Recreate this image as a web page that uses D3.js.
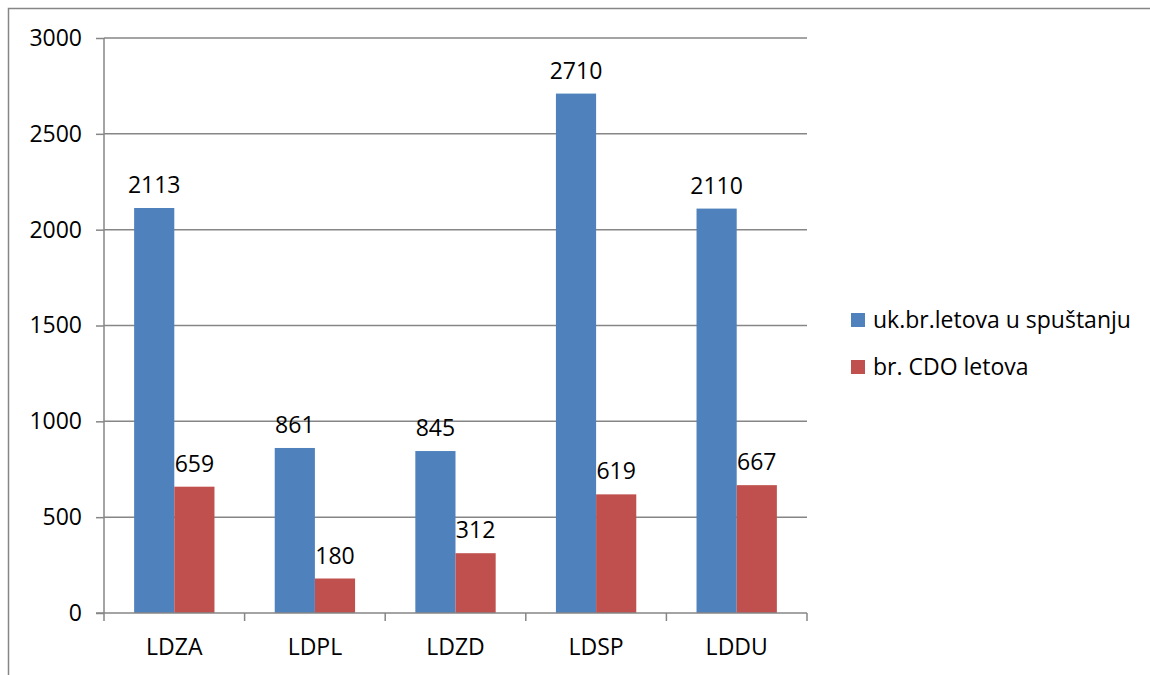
<!DOCTYPE html>
<html>
<head>
<meta charset="utf-8">
<script src="https://cdn.jsdelivr.net/npm/d3@7"></script>
<style>
  body { margin: 0; background: #fff; }
  svg text { font-family: "Open Sans", sans-serif; fill: #000; }
</style>
</head>
<body>
<svg id="chart" width="1150" height="675"></svg>
<script>
// data
const categories = ['LDZA', 'LDPL', 'LDZD', 'LDSP', 'LDDU'];
const seriesNames = ['uk.br.letova u spuštanju', 'br. CDO letova'];
const totalFlights = [2113, 861, 845, 2710, 2110];
const cdoFlights = [659, 180, 312, 619, 667];
const yTicks = [0, 500, 1000, 1500, 2000, 2500, 3000];
const colors = ['#4F81BD', '#C0504D'];

const svg = d3.select('#chart');
const plotLeft = 104, plotRight = 807, plotTop = 38, plotBottom = 613;
const fontSize = 23;

// outer frame (right/bottom edges lie outside the picture)
svg.append('rect')
  .attr('x', 8.5).attr('y', 8.5)
  .attr('width', 1200).attr('height', 700)
  .attr('fill', 'none')
  .attr('stroke', '#868686')
  .attr('stroke-width', 1.5);

const x = d3.scaleBand().domain(categories).range([plotLeft, plotRight]);
const xs = d3.scaleBand().domain([0, 1]).range([0, x.bandwidth()]).paddingInner(0).paddingOuter(0.75);
const y = d3.scaleLinear().domain([0, 3000]).range([plotBottom, plotTop]);

// gridlines
svg.append('g').selectAll('line')
  .data(yTicks.filter(d => d > 0))
  .enter().append('line')
  .attr('x1', plotLeft).attr('x2', plotRight)
  .attr('y1', d => y(d)).attr('y2', d => y(d))
  .attr('stroke', '#868686').attr('stroke-width', 1.5);

// y axis
const yAxis = svg.append('g')
  .attr('transform', 'translate(' + plotLeft + ',0)')
  .call(d3.axisLeft(y).tickValues(yTicks).tickFormat(d3.format('d')).tickSize(8).tickPadding(14));
yAxis.select('.domain').remove();
yAxis.selectAll('line').attr('stroke', '#868686').attr('stroke-width', 1.5);
yAxis.selectAll('text').attr('font-size', fontSize).attr('font-family', '"Open Sans", sans-serif').attr('fill', '#000');
svg.append('line')
  .attr('x1', plotLeft).attr('x2', plotLeft).attr('y1', plotTop).attr('y2', plotBottom)
  .attr('stroke', '#868686').attr('stroke-width', 1.5);

// bars
const series = [totalFlights, cdoFlights];
series.forEach((vals, si) => {
  const g = svg.append('g');
  g.selectAll('rect')
    .data(categories)
    .enter().append('rect')
    .attr('x', (c, i) => x(c) + xs(si))
    .attr('y', (c, i) => y(vals[i]))
    .attr('width', xs.bandwidth())
    .attr('height', (c, i) => plotBottom - y(vals[i]))
    .attr('fill', colors[si]);
  g.selectAll('text')
    .data(categories)
    .enter().append('text')
    .attr('x', (c, i) => x(c) + xs(si) + xs.bandwidth() / 2)
    .attr('y', (c, i) => y(vals[i]) - 15)
    .attr('text-anchor', 'middle')
    .attr('font-size', fontSize)
    .text((c, i) => vals[i]);
});

// x axis
const xAxis = svg.append('g')
  .attr('transform', 'translate(0,' + plotBottom + ')')
  .call(d3.axisBottom(x).tickSize(0).tickPadding(26));
xAxis.select('.domain').remove();
xAxis.selectAll('text').attr('font-size', fontSize).attr('font-family', '"Open Sans", sans-serif').attr('fill', '#000');
svg.append('line')
  .attr('x1', plotLeft - 8).attr('x2', plotRight).attr('y1', plotBottom).attr('y2', plotBottom)
  .attr('stroke', '#868686').attr('stroke-width', 1.5);
svg.append('g').selectAll('line')
  .data(categories.map(c => x(c)).concat([plotRight]))
  .enter().append('line')
  .attr('x1', d => d).attr('x2', d => d)
  .attr('y1', plotBottom).attr('y2', plotBottom + 8)
  .attr('stroke', '#868686').attr('stroke-width', 1.5);

// legend
const legend = svg.append('g').selectAll('g')
  .data(seriesNames)
  .enter().append('g')
  .attr('transform', (d, i) => 'translate(851,' + (313 + i * 47) + ')');
legend.append('rect')
  .attr('width', 14).attr('height', 14)
  .attr('fill', (d, i) => colors[i]);
legend.append('text')
  .attr('x', 22).attr('y', 7)
  .attr('dy', '0.35em')
  .attr('font-size', fontSize)
  .text(d => d);
</script>
</body>
</html>
